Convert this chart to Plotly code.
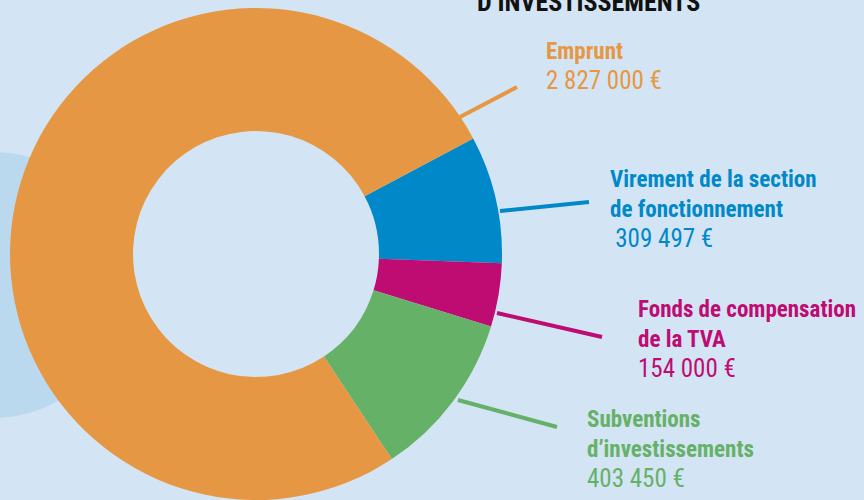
import plotly.graph_objects as go

# ---- data ----
categories = ["Virement de la section de fonctionnement", "Fonds de compensation de la TVA",
              "Subventions d’investissements", "Emprunt"]
values = [309497, 154000, 403450, 2827000]
value_labels = ["309 497 €", "154 000 €", "403 450 €", "2 827 000 €"]
colors = ["#0088C9", "#BE0C72", "#66B168", "#E69743"]

W, H = 864, 500
BG = "#D3E5F4"
FONT = "Roboto Condensed, Liberation Sans Narrow, Roboto, sans-serif"

def px(x):
    return x / W

def py(y):
    return 1 - y / H

fig = go.Figure()
fig.add_trace(go.Pie(
    labels=categories, values=values, sort=False, direction="clockwise",
    rotation=62, hole=0.5, textinfo="none", hoverinfo="label+value",
    marker=dict(colors=colors, line=dict(width=0)),
    domain=dict(x=[px(10), px(502)], y=[0, py(8)]),
    showlegend=False,
))

shapes = []
# background bubble
shapes.append(dict(type="circle", xref="paper", yref="paper", layer="below",
                   x0=px(-140), x1=px(126), y0=py(418), y1=py(152),
                   fillcolor="#BAD9EF", line=dict(width=0)))
# leader lines
leaders = [((500, 211), (589, 202), colors[0]),
           ((497, 313), (602, 337), colors[1]),
           ((458, 400), (557, 427), colors[2]),
           ((460, 117), (517, 87), colors[3])]
for (a, b, c) in leaders:
    shapes.append(dict(type="line", xref="paper", yref="paper",
                       x0=px(a[0]), y0=py(a[1]), x1=px(b[0]), y1=py(b[1]),
                       line=dict(color=c, width=4)))

annotations = []
annotations.append(dict(text="<b>D’INVESTISSEMENTS</b>", x=px(475), y=py(19), xref="paper", yref="paper",
                        xanchor="left", yanchor="bottom", showarrow=False,
                        font=dict(family=FONT, size=26, color="#111111")))

def val(s):
    return '<span style="font-size:25px">' + s + '</span>'

label_specs = [
    ("<b>Virement de la section<br>de fonctionnement</b><br> " + val(value_labels[0]), 608, 164, colors[0]),
    ("<b>Fonds de compensation<br>de la TVA</b><br>" + val(value_labels[1]), 636, 294, colors[1]),
    ("<b>Subventions<br>d’investissements</b><br>" + val(value_labels[2]), 585, 404, colors[2]),
    ("<b>Emprunt</b><br>" + val(value_labels[3]), 544, 36, colors[3]),
]
for text, x, y, c in label_specs:
    annotations.append(dict(text=text, x=px(x), y=py(y), xref="paper", yref="paper",
                            xanchor="left", yanchor="top", align="left", showarrow=False,
                            font=dict(family=FONT, size=23, color=c)))

fig.update_layout(
    width=W, height=H, margin=dict(l=0, r=0, t=0, b=0),
    paper_bgcolor=BG, plot_bgcolor=BG,
    shapes=shapes, annotations=annotations,
)
fig.write_html("out.html", config={"displayModeBar": False},
               post_script="document.body.style.margin='0';document.body.style.overflow='hidden';")
